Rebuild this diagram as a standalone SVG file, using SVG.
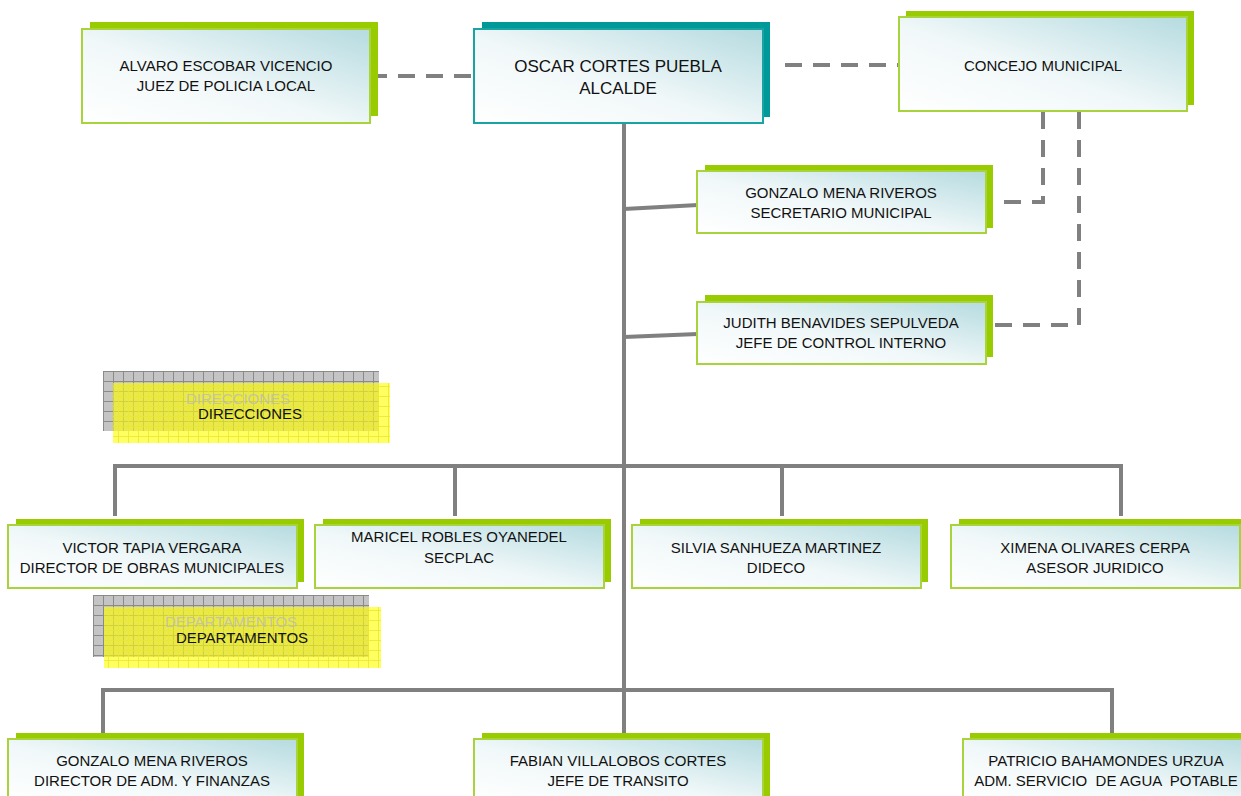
<svg xmlns="http://www.w3.org/2000/svg" width="1241" height="796" viewBox="0 0 1241 796">
<defs>
<linearGradient id="fillg" x1="0" y1="1" x2="1" y2="0">
<stop offset="0" stop-color="#ffffff"/>
<stop offset="0.45" stop-color="#f1f8f9"/>
<stop offset="1" stop-color="#b5dbe0"/>
</linearGradient>
<pattern id="grayGrid" width="10" height="10" patternUnits="userSpaceOnUse" x="103" y="371">
<rect width="10" height="10" fill="#c4c4c4"/>
<path d="M0 0.5H10M0.5 0V10" stroke="#8a8a8a" stroke-width="1"/>
</pattern>
<pattern id="yelGrid" width="10" height="10" patternUnits="userSpaceOnUse" x="103" y="371">
<rect width="10" height="10" fill="#ffff00" fill-opacity="0.62"/>
<path d="M0 5.5H10M5.5 0V10" stroke="#e8e830" stroke-width="1" stroke-opacity="0.8"/>
</pattern>
<pattern id="grayGrid2" width="10" height="10" patternUnits="userSpaceOnUse" x="93" y="595">
<rect width="10" height="10" fill="#c4c4c4"/>
<path d="M0 0.5H10M0.5 0V10" stroke="#8a8a8a" stroke-width="1"/>
</pattern>
<pattern id="yelGrid2" width="10" height="10" patternUnits="userSpaceOnUse" x="93" y="595">
<rect width="10" height="10" fill="#ffff00" fill-opacity="0.62"/>
<path d="M0 5.5H10M5.5 0V10" stroke="#e8e830" stroke-width="1" stroke-opacity="0.8"/>
</pattern>
</defs>
<style>
.sh{fill:#99cc00}
.shT{fill:#009999}
.fr{fill:url(#fillg);stroke:#a8d33a;stroke-width:2}
.frT{fill:url(#fillg);stroke:#1aa3a3;stroke-width:2}
.t{font-family:"Liberation Sans",Arial,sans-serif;font-size:15px;fill:#111;text-anchor:middle}
.tb{font-family:"Liberation Sans",Arial,sans-serif;font-size:17px;fill:#111;text-anchor:middle}
.ghost{font-family:"Liberation Sans",Arial,sans-serif;font-size:15px;fill:#bcbcbc;fill-opacity:0.8;text-anchor:middle}
.solid{stroke:#808080;stroke-width:4;fill:none}
.dash{stroke:#808080;stroke-width:4;fill:none;stroke-dasharray:17 11}
</style>
<rect width="1241" height="796" fill="#ffffff"/>

<g id="connectors">
<line class="solid" x1="624" y1="123" x2="624" y2="740"/>
<line class="solid" x1="624" y1="209" x2="698" y2="205"/>
<line class="solid" x1="624" y1="337" x2="698" y2="334"/>
<polyline class="solid" points="115,516 115,466 1121,466 1121,516"/>
<line class="solid" x1="455" y1="466" x2="455" y2="516"/>
<line class="solid" x1="782" y1="466" x2="782" y2="516"/>
<polyline class="solid" points="103,740 103,690 1112,690 1112,740"/>
<line class="dash" x1="370" y1="76" x2="474" y2="76"/>
<line class="dash" x1="785" y1="65" x2="899" y2="65"/>
<polyline class="dash" points="1043,112 1043,202 986,202"/>
<polyline class="dash" points="1079,112 1079,325 986,325"/>
</g>

<g id="node-alvaro">
<rect class="sh" x="90" y="22" width="288" height="94"/>
<rect class="fr" x="82" y="29" width="288" height="94"/>
<text class="t" x="226" y="71">ALVARO ESCOBAR VICENCIO</text>
<text class="t" x="226" y="91">JUEZ DE POLICIA LOCAL</text>
</g>

<g id="node-oscar">
<rect class="shT" x="482" y="22" width="288" height="95"/>
<rect class="frT" x="474" y="29" width="289" height="94"/>
<text class="tb" x="618" y="72">OSCAR CORTES PUEBLA</text>
<text class="tb" x="618" y="94">ALCALDE</text>
</g>

<g id="node-concejo">
<rect class="sh" x="906" y="11" width="288" height="94"/>
<rect class="fr" x="899" y="17" width="288" height="94"/>
<text class="t" x="1043" y="71">CONCEJO MUNICIPAL</text>
</g>

<g id="node-gonzalo-sec">
<rect class="sh" x="705" y="165" width="288" height="63"/>
<rect class="fr" x="697" y="171" width="289" height="62"/>
<text class="t" x="841" y="198">GONZALO MENA RIVEROS</text>
<text class="t" x="841" y="218">SECRETARIO MUNICIPAL</text>
</g>

<g id="node-judith">
<rect class="sh" x="705" y="295" width="288" height="62"/>
<rect class="fr" x="697" y="302" width="289" height="62"/>
<text class="t" x="841" y="328">JUDITH BENAVIDES SEPULVEDA</text>
<text class="t" x="841" y="348">JEFE DE CONTROL INTERNO</text>
</g>

<g id="label-direcciones">
<rect x="103" y="371" width="276" height="60" fill="url(#grayGrid)"/>
<rect x="113" y="383" width="277" height="60" fill="url(#yelGrid)"/>
<text class="ghost" x="238" y="404">DIRECCIONES</text>
<text class="t" x="250" y="419">DIRECCIONES</text>
</g>

<g id="node-victor">
<rect class="sh" x="16" y="519" width="288" height="63"/>
<rect class="fr" x="8" y="525" width="289" height="63"/>
<text class="t" x="152" y="553">VICTOR TAPIA VERGARA</text>
<text class="t" x="152" y="573">DIRECTOR DE OBRAS MUNICIPALES</text>
</g>

<g id="node-maricel">
<rect class="sh" x="323" y="519" width="288" height="63"/>
<rect class="fr" x="315" y="525" width="289" height="63"/>
<text class="t" x="459" y="542">MARICEL ROBLES OYANEDEL</text>
<text class="t" x="459" y="563">SECPLAC</text>
</g>

<g id="node-silvia">
<rect class="sh" x="640" y="519" width="288" height="63"/>
<rect class="fr" x="632" y="525" width="289" height="63"/>
<text class="t" x="776" y="553">SILVIA SANHUEZA MARTINEZ</text>
<text class="t" x="776" y="573">DIDECO</text>
</g>

<g id="node-ximena">
<rect class="sh" x="959" y="519" width="288" height="63"/>
<rect class="fr" x="951" y="525" width="289" height="63"/>
<text class="t" x="1095" y="553">XIMENA OLIVARES CERPA</text>
<text class="t" x="1095" y="573">ASESOR JURIDICO</text>
</g>

<g id="label-departamentos">
<rect x="93" y="595" width="276" height="62" fill="url(#grayGrid2)"/>
<rect x="104" y="607" width="277" height="61" fill="url(#yelGrid2)"/>
<text class="ghost" x="231" y="627">DEPARTAMENTOS</text>
<text class="t" x="242" y="643">DEPARTAMENTOS</text>
</g>

<g id="node-gonzalo-adm">
<rect class="sh" x="16" y="733" width="288" height="63"/>
<rect class="fr" x="8" y="739" width="289" height="63"/>
<text class="t" x="152" y="766">GONZALO MENA RIVEROS</text>
<text class="t" x="152" y="786">DIRECTOR DE ADM. Y FINANZAS</text>
</g>

<g id="node-fabian">
<rect class="sh" x="482" y="733" width="288" height="63"/>
<rect class="fr" x="474" y="739" width="289" height="63"/>
<text class="t" x="618" y="766">FABIAN VILLALOBOS CORTES</text>
<text class="t" x="618" y="786">JEFE DE TRANSITO</text>
</g>

<g id="node-patricio">
<rect class="sh" x="970" y="733" width="288" height="63"/>
<rect class="fr" x="963" y="739" width="289" height="63"/>
<text class="t" x="1106" y="766">PATRICIO BAHAMONDES URZUA</text>
<text class="t" x="1106" y="786" xml:space="preserve">ADM. SERVICIO  DE AGUA  POTABLE</text>
</g>
</svg>
